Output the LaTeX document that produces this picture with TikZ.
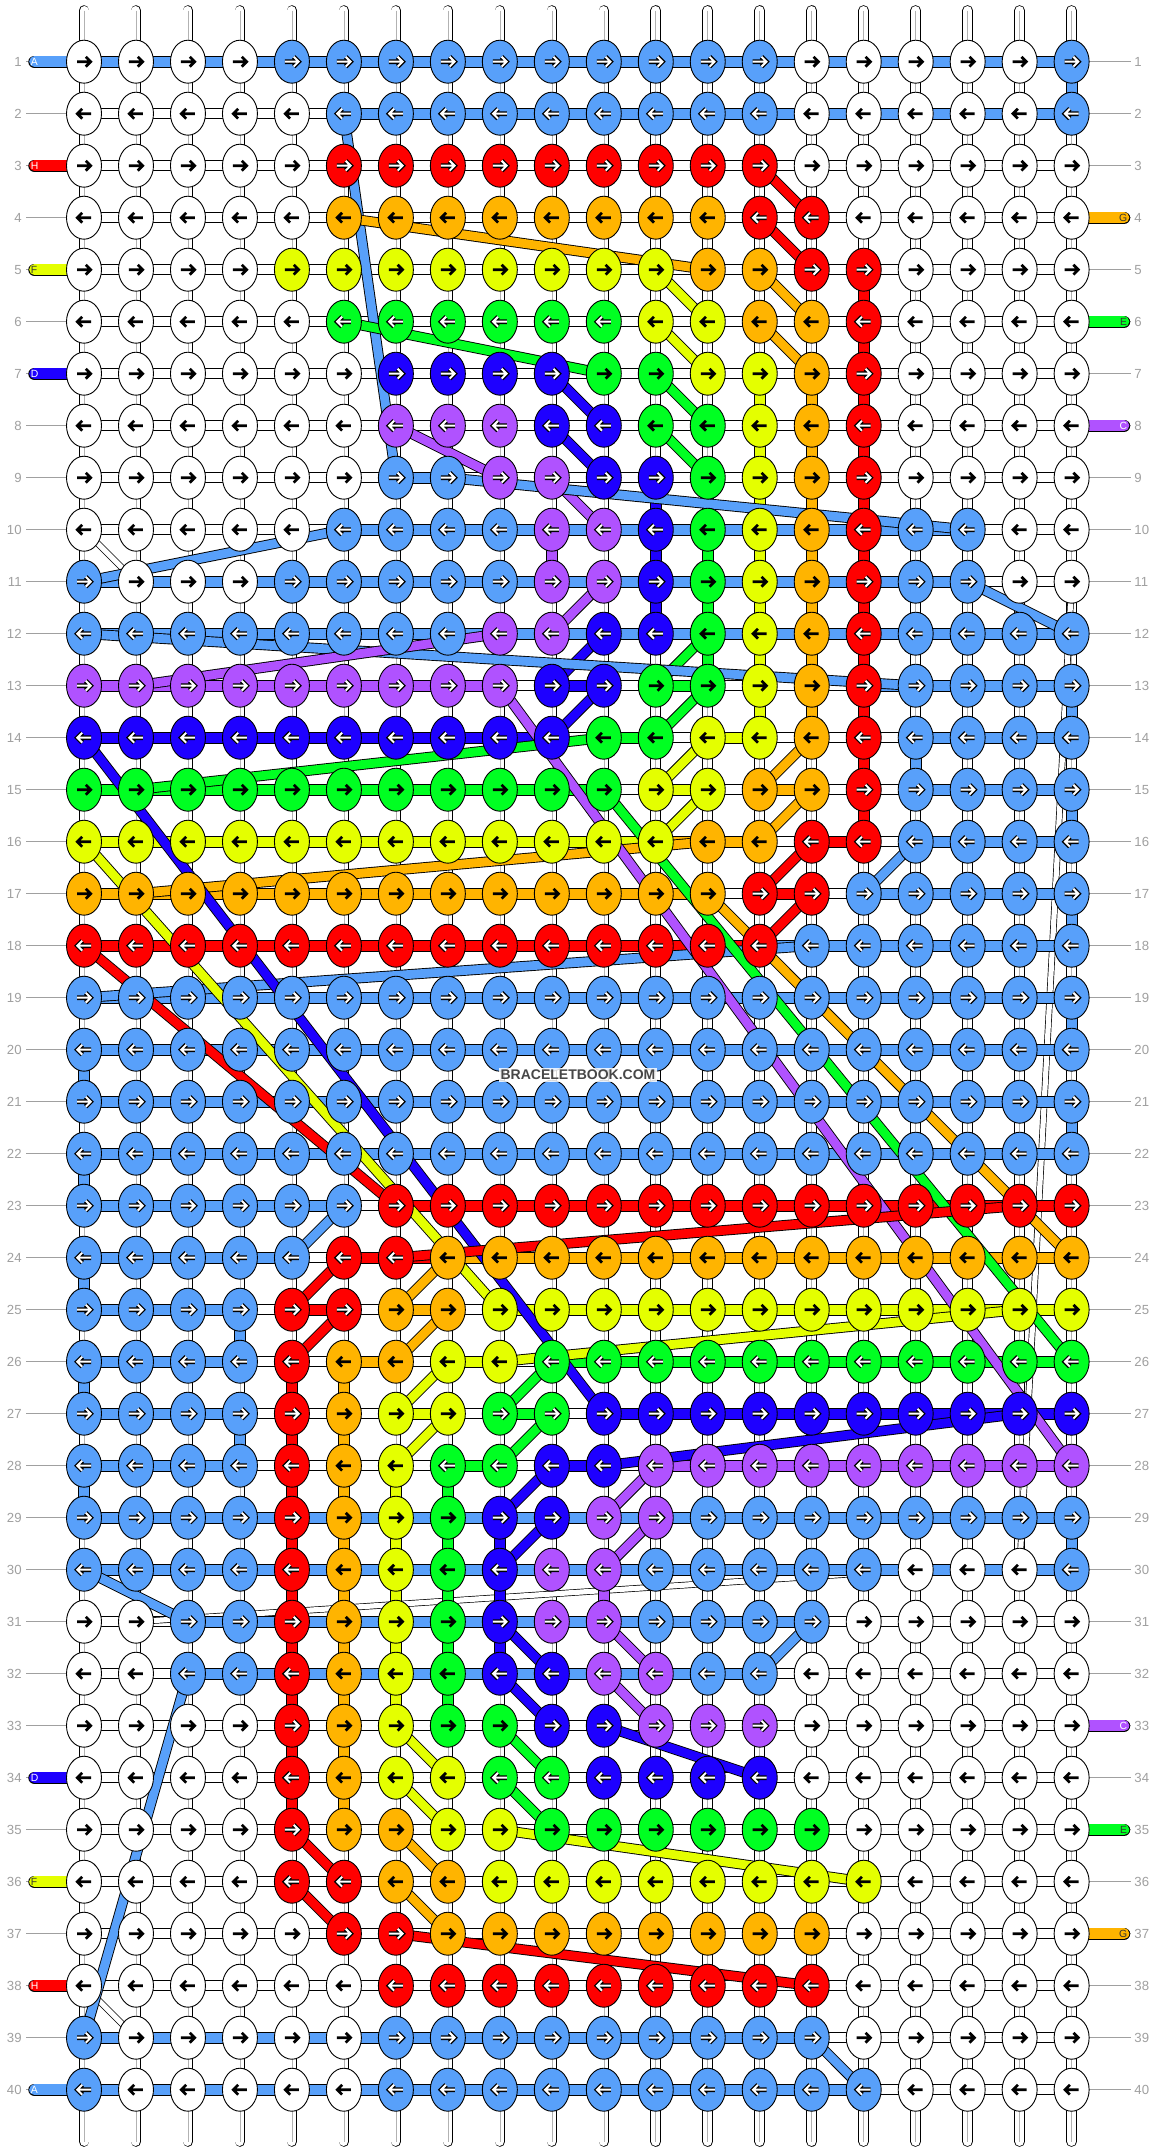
\documentclass[tikz,border=0pt]{standalone}
\usepackage{fontspec}
\setmainfont{Liberation Sans}
\usetikzlibrary{shapes.geometric}
\definecolor{kA}{RGB}{88,160,250}
\definecolor{kH}{RGB}{255,0,0}
\definecolor{kG}{RGB}{255,180,0}
\definecolor{kF}{RGB}{228,255,0}
\definecolor{kE}{RGB}{0,255,34}
\definecolor{ke}{RGB}{0,255,34}
\definecolor{kD}{RGB}{30,0,255}
\definecolor{kC}{RGB}{176,82,255}
\definecolor{kW}{RGB}{255,255,255}
\definecolor{numgray}{RGB}{160,160,160}
\pgfdeclarelayer{bg}
\pgfdeclarelayer{wl}
\pgfdeclarelayer{cl}
\pgfsetlayers{bg,wl,cl,main}
\def\atW{B}\def\atF{B}\def\atG{B}\def\atE{B}
\def\atA{L}\def\atH{L}\def\atD{L}\def\atC{L}\def\ate{L}
\tikzset{
 knot/.style={ellipse,draw=black,line width=0.45pt,minimum width=17.5pt,minimum height=21.5pt,inner sep=0pt},
 cbar/.style={draw=black,line width=0.45pt,double=#1,double distance=5.1pt},
 cline/.style={draw=black,line width=0.45pt,double=#1,double distance=4.4pt},
 wbar/.style={draw=black,line width=0.4pt,double=white,double distance=4.7pt},
 vbar/.style={draw=black,line width=0.4pt,double=white,double distance=4.5pt,line cap=round},
 thinw/.style={draw=black,line width=0.35pt,double=white,double distance=2.6pt},
 numtxt/.style={font=\fontsize{6.6pt}{7pt}\selectfont,text=numgray,inner sep=0pt},
 labtxt/.style={font=\fontsize{5.2pt}{6pt}\selectfont,inner sep=0pt},
}
\newcommand\knotrow[2]{%
 \ifodd#1\relax\def\kdir{1}\else\def\kdir{-1}\fi
 \foreach \kk [count=\cc] in {#2}{%
  \pgfmathsetmacro\xx{84+51.98*(\cc-1)}%
  \pgfmathsetmacro\yy{61.7+52*(#1-1)}%
  \node[knot,fill=k\kk] (k-#1-\cc) at (\xx,\yy) {};
  \if B\csname at\kk\endcsname
   \draw[line width=1.35pt,shift={(\xx,\yy)},xscale=\kdir] (-7,0)--(6,0) (1.8,-4.9)--(6.7,0)--(1.8,4.9);
  \else
   \draw[line width=2.3pt,shift={(\xx,\yy)},xscale=\kdir] (-7,0)--(6,0) (1.8,-4.9)--(6.7,0)--(1.8,4.9);
   \draw[white,line width=1.0pt,shift={(\xx,\yy)},xscale=\kdir] (-7,0)--(6,0) (1.8,-4.9)--(6.7,0)--(1.8,4.9);
  \fi
 }}
\newcommand\linkrow[2]{%
 \foreach \kk [count=\cc] in {#2}{%
  \if W\kk\else
   \pgfmathtruncatemacro\cn{\cc+1}%
   \draw[cbar=k\kk] (k-#1-\cc.center) -- (k-#1-\cn.center);
  \fi}}
\newcommand\vlk[4]{\draw[cbar=k#1] (k-#3-#2.center) -- (k-#4-#2.center);}
\newcommand\thr[5]{\draw[cline=k#1] (k-#2-#3.center) -- (k-#4-#5.center);}
\newcommand\leftlab[4]{%
 \coordinate (lb-#1) at (34.5,{61.7+52*(#1-1)});
 \draw[draw=black,line width=0.45pt,double=k#2,double distance=5.3pt,line cap=round] (lb-#1) -- (k-#1-1.center);
 \node[labtxt,anchor=west,text=#4] (lt-#1) at (30.5,{61.7+52*(#1-1)}) {#3};}
\newcommand\rightlab[4]{%
 \coordinate (rb-#1) at (1124,{61.7+52*(#1-1)});
 \draw[draw=black,line width=0.45pt,double=k#2,double distance=5.3pt,line cap=round] (k-#1-20.center) -- (rb-#1);
 \node[labtxt,anchor=east,text=#4] (rt-#1) at (1127.5,{61.7+52*(#1-1)}) {#3};}
\begin{document}
\begin{tikzpicture}[x=0.5pt,y=-0.5pt]
\begin{pgfonlayer}{bg}
\fill[white] (0,0) rectangle (1156,2152);
\end{pgfonlayer}
\useasboundingbox (0,0) rectangle (1156,2152);
% knots
\knotrow{1}{W,W,W,W,A,A,A,A,A,A,A,A,A,A,W,W,W,W,W,A}
\knotrow{2}{W,W,W,W,W,A,A,A,A,A,A,A,A,A,W,W,W,W,W,A}
\knotrow{3}{W,W,W,W,W,H,H,H,H,H,H,H,H,H,W,W,W,W,W,W}
\knotrow{4}{W,W,W,W,W,G,G,G,G,G,G,G,G,H,H,W,W,W,W,W}
\knotrow{5}{W,W,W,W,F,F,F,F,F,F,F,F,G,G,H,H,W,W,W,W}
\knotrow{6}{W,W,W,W,W,e,e,e,e,e,e,F,F,G,G,H,W,W,W,W}
\knotrow{7}{W,W,W,W,W,W,D,D,D,D,E,E,F,F,G,H,W,W,W,W}
\knotrow{8}{W,W,W,W,W,W,C,C,C,D,D,E,E,F,G,H,W,W,W,W}
\knotrow{9}{W,W,W,W,W,W,A,A,C,C,D,D,E,F,G,H,W,W,W,W}
\knotrow{10}{W,W,W,W,W,A,A,A,A,C,C,D,E,F,G,H,A,A,W,W}
\knotrow{11}{A,W,W,W,A,A,A,A,A,C,C,D,E,F,G,H,A,A,W,W}
\knotrow{12}{A,A,A,A,A,A,A,A,C,C,D,D,E,F,G,H,A,A,A,A}
\knotrow{13}{C,C,C,C,C,C,C,C,C,D,D,E,E,F,G,H,A,A,A,A}
\knotrow{14}{D,D,D,D,D,D,D,D,D,D,E,E,F,F,G,H,A,A,A,A}
\knotrow{15}{E,E,E,E,E,E,E,E,E,E,E,F,F,G,G,H,A,A,A,A}
\knotrow{16}{F,F,F,F,F,F,F,F,F,F,F,F,G,G,H,H,A,A,A,A}
\knotrow{17}{G,G,G,G,G,G,G,G,G,G,G,G,G,H,H,A,A,A,A,A}
\knotrow{18}{H,H,H,H,H,H,H,H,H,H,H,H,H,H,A,A,A,A,A,A}
\knotrow{19}{A,A,A,A,A,A,A,A,A,A,A,A,A,A,A,A,A,A,A,A}
\knotrow{20}{A,A,A,A,A,A,A,A,A,A,A,A,A,A,A,A,A,A,A,A}
\knotrow{21}{A,A,A,A,A,A,A,A,A,A,A,A,A,A,A,A,A,A,A,A}
\knotrow{22}{A,A,A,A,A,A,A,A,A,A,A,A,A,A,A,A,A,A,A,A}
\knotrow{23}{A,A,A,A,A,A,H,H,H,H,H,H,H,H,H,H,H,H,H,H}
\knotrow{24}{A,A,A,A,A,H,H,G,G,G,G,G,G,G,G,G,G,G,G,G}
\knotrow{25}{A,A,A,A,H,H,G,G,F,F,F,F,F,F,F,F,F,F,F,F}
\knotrow{26}{A,A,A,A,H,G,G,F,F,e,e,e,e,e,e,e,e,e,e,e}
\knotrow{27}{A,A,A,A,H,G,F,F,e,e,D,D,D,D,D,D,D,D,D,D}
\knotrow{28}{A,A,A,A,H,G,F,e,e,D,D,C,C,C,C,C,C,C,C,C}
\knotrow{29}{A,A,A,A,H,G,F,E,D,D,C,C,A,A,A,A,A,A,A,A}
\knotrow{30}{A,A,A,A,H,G,F,E,D,C,C,A,A,A,A,A,W,W,W,A}
\knotrow{31}{W,W,A,A,H,G,F,E,D,C,C,A,A,A,A,W,W,W,W,W}
\knotrow{32}{W,W,A,A,H,G,F,E,D,D,C,C,A,A,W,W,W,W,W,W}
\knotrow{33}{W,W,W,W,H,G,F,E,E,D,D,C,C,C,W,W,W,W,W,W}
\knotrow{34}{W,W,W,W,H,G,F,F,e,e,D,D,D,D,W,W,W,W,W,W}
\knotrow{35}{W,W,W,W,H,G,G,F,F,E,E,E,E,E,E,W,W,W,W,W}
\knotrow{36}{W,W,W,W,H,H,G,G,F,F,F,F,F,F,F,F,W,W,W,W}
\knotrow{37}{W,W,W,W,W,H,H,G,G,G,G,G,G,G,G,W,W,W,W,W}
\knotrow{38}{W,W,W,W,W,W,H,H,H,H,H,H,H,H,H,W,W,W,W,W}
\knotrow{39}{A,W,W,W,W,W,A,A,A,A,A,A,A,A,A,W,W,W,W,W}
\knotrow{40}{A,W,W,W,W,W,A,A,A,A,A,A,A,A,A,A,W,W,W,W}
% white base links
\begin{pgfonlayer}{wl}
\foreach \cc in {1,...,20}{%
 \pgfmathsetmacro\xx{84+51.98*(\cc-1)}%
 \coordinate (top-\cc) at (\xx,10.5);
 \coordinate (bot-\cc) at (\xx,2141.5);
 \draw[vbar] (top-\cc) -- (bot-\cc);
 \draw[black!30,line width=0.3pt] (top-\cc) -- (bot-\cc);
}
\foreach \rr in {1,...,40}{%
 \pgfmathsetmacro\yy{61.7+52*(\rr-1)}%
 \draw[wbar] (k-\rr-1.center) -- (k-\rr-20.center);
 \coordinate (gl-\rr) at (26,\yy);
 \coordinate (gr-\rr) at (1131,\yy);
 \draw[numgray,line width=0.5pt] (gl-\rr) -- (k-\rr-1.center);
 \draw[numgray,line width=0.5pt] (k-\rr-20.center) -- (gr-\rr);
}
\draw[thinw] (k-10-1.center) -- (k-11-2.center);
\draw[thinw] (k-38-1.center) -- (k-39-2.center);
\draw[thinw] (k-11-20.center) -- (k-30-19.center);
\draw[thinw] (k-30-17.center) -- (k-31-2.center);
\end{pgfonlayer}
% colored threads
\begin{pgfonlayer}{cl}
\linkrow{1}{A,A,A,A,A,A,A,A,A,A,A,A,A,A,A,A,A,A,A}
\linkrow{2}{W,W,W,W,W,A,A,A,A,A,A,A,A,A,A,A,A,A,A}
\linkrow{9}{W,W,W,W,W,W,A,W,W,W,W,W,W,W,W,W,W,W,W}
\linkrow{10}{W,W,W,W,W,A,A,A,A,A,A,A,A,A,A,A,A,W,W}
\linkrow{11}{A,A,A,A,A,A,A,A,A,A,A,A,A,A,A,A,A,W,W}
\linkrow{12}{A,A,A,A,A,A,A,A,A,A,A,A,A,A,A,A,A,A,A}
\linkrow{13}{C,C,C,C,C,C,C,C,W,D,W,E,W,W,W,A,A,A,A}
\linkrow{14}{D,D,D,D,D,D,D,D,D,W,E,W,F,W,W,W,A,A,A}
\linkrow{15}{E,E,E,E,E,E,E,E,E,E,W,F,W,G,W,W,A,A,A}
\linkrow{16}{F,F,F,F,F,F,F,F,F,F,F,G,G,W,H,W,A,A,A}
\linkrow{17}{G,G,G,G,G,G,G,G,G,G,G,G,W,H,W,A,A,A,A}
\linkrow{18}{H,H,H,H,H,H,H,H,H,H,H,H,H,A,A,A,A,A,A}
\linkrow{19}{A,A,A,A,A,A,A,A,A,A,A,A,A,A,A,A,A,A,A}
\linkrow{20}{A,A,A,A,A,A,A,A,A,A,A,A,A,A,A,A,A,A,A}
\linkrow{21}{A,A,A,A,A,A,A,A,A,A,A,A,A,A,A,A,A,A,A}
\linkrow{22}{A,A,A,A,A,A,A,A,A,A,A,A,A,A,A,A,A,A,A}
\linkrow{23}{A,A,A,A,A,W,H,H,H,H,H,H,H,H,H,H,H,H,H}
\linkrow{24}{A,A,A,A,W,H,H,G,G,G,G,G,G,G,G,G,G,G,G}
\linkrow{25}{A,A,A,W,H,W,G,W,F,F,F,F,F,F,F,F,F,F,F}
\linkrow{26}{A,A,A,W,W,G,W,F,W,E,E,E,E,E,E,E,E,E,E}
\linkrow{27}{A,A,A,W,W,W,F,W,E,W,D,D,D,D,D,D,D,D,D}
\linkrow{28}{A,A,A,W,W,W,W,E,W,D,W,C,C,C,C,C,C,C,C}
\linkrow{29}{A,A,A,A,A,A,A,A,A,A,A,A,A,A,A,A,A,A,A}
\linkrow{30}{A,A,A,A,A,A,A,A,A,A,A,A,A,A,A,A,A,A,A}
\linkrow{31}{W,W,A,A,A,A,A,A,A,A,A,A,A,A,W,W,W,W,W}
\linkrow{32}{W,W,A,A,A,A,A,A,A,A,A,A,A,W,W,W,W,W,W}
\linkrow{39}{A,A,A,A,A,A,A,A,A,A,A,A,A,A,W,W,W,W,W}
\linkrow{40}{A,A,A,A,A,A,A,A,A,A,A,A,A,A,A,W,W,W,W}
% vertical colored links
\vlk{A}{20}{1}{2}
\vlk{A}{20}{13}{14}
\vlk{A}{17}{14}{15}
\vlk{A}{20}{15}{16}
\vlk{A}{20}{17}{18}
\vlk{A}{20}{19}{20}
\vlk{A}{1}{20}{21}
\vlk{A}{20}{21}{22}
\vlk{A}{1}{22}{23}
\vlk{A}{1}{24}{25}
\vlk{A}{4}{25}{26}
\vlk{A}{1}{26}{27}
\vlk{A}{4}{27}{28}
\vlk{A}{1}{28}{29}
\vlk{A}{20}{29}{30}
\vlk{H}{16}{5}{16}
\vlk{H}{5}{26}{35}
\vlk{G}{15}{7}{14}
\vlk{G}{6}{26}{35}
\vlk{F}{14}{7}{14}
\vlk{F}{7}{28}{33}
\vlk{E}{13}{9}{13}
\vlk{E}{8}{28}{33}
\vlk{D}{12}{9}{12}
\vlk{D}{9}{29}{32}
\vlk{C}{10}{10}{11}
\vlk{C}{11}{30}{31}
% short diagonal threads
\thr{H}{3}{14}{4}{15} \thr{H}{4}{14}{5}{15}
\thr{G}{5}{14}{6}{15} \thr{G}{6}{14}{7}{15}
\thr{F}{5}{12}{6}{13} \thr{F}{6}{12}{7}{13}
\thr{E}{7}{12}{8}{13} \thr{E}{8}{12}{9}{13}
\thr{D}{7}{10}{8}{11} \thr{D}{8}{10}{9}{11}
\thr{C}{9}{10}{10}{11} \thr{C}{11}{11}{12}{10}
\thr{D}{12}{11}{13}{10} \thr{D}{13}{11}{14}{10}
\thr{E}{12}{13}{13}{12} \thr{E}{13}{13}{14}{12}
\thr{F}{14}{13}{15}{12} \thr{F}{15}{13}{16}{12}
\thr{G}{14}{15}{15}{14} \thr{G}{15}{15}{16}{14}
\thr{H}{16}{15}{17}{14} \thr{H}{17}{15}{18}{14}
\thr{A}{16}{17}{17}{16}
\thr{A}{23}{6}{24}{5}
\thr{H}{24}{6}{25}{5} \thr{H}{25}{6}{26}{5}
\thr{G}{24}{8}{25}{7} \thr{G}{25}{8}{26}{7}
\thr{F}{26}{8}{27}{7} \thr{F}{27}{8}{28}{7}
\thr{E}{26}{10}{27}{9} \thr{E}{27}{10}{28}{9}
\thr{D}{28}{10}{29}{9} \thr{D}{29}{10}{30}{9}
\thr{C}{29}{11}{28}{12} \thr{C}{30}{11}{29}{12}
\thr{D}{31}{9}{32}{10} \thr{D}{32}{9}{33}{10}
\thr{C}{31}{11}{32}{12} \thr{C}{32}{11}{33}{12}
\thr{E}{33}{9}{34}{10} \thr{E}{34}{9}{35}{10}
\thr{F}{33}{7}{34}{8} \thr{F}{34}{7}{35}{8}
\thr{G}{35}{7}{36}{8} \thr{G}{36}{7}{37}{8}
\thr{H}{35}{5}{36}{6} \thr{H}{36}{5}{37}{6}
\thr{A}{30}{1}{31}{3} \thr{A}{31}{15}{32}{14} \thr{A}{39}{15}{40}{16}
% long threads
\thr{A}{2}{6}{9}{7} \thr{A}{9}{8}{10}{18} \thr{A}{10}{6}{11}{1}
\thr{A}{11}{18}{12}{20} \thr{A}{12}{1}{13}{17} \thr{A}{18}{15}{19}{1}
\thr{A}{32}{3}{39}{1}
\thr{G}{4}{6}{5}{13} \thr{G}{17}{2}{16}{13} \thr{G}{17}{13}{24}{20}
\thr{E}{6}{6}{7}{11} \thr{E}{15}{2}{14}{11} \thr{E}{15}{11}{26}{20}
\thr{C}{8}{7}{9}{9} \thr{C}{12}{9}{13}{2} \thr{C}{13}{9}{28}{20}
\thr{D}{14}{1}{27}{11} \thr{D}{28}{11}{27}{19} \thr{D}{33}{11}{34}{14}
\thr{F}{16}{1}{25}{9} \thr{F}{26}{9}{25}{19} \thr{F}{35}{9}{36}{16}
\thr{H}{18}{1}{23}{7} \thr{H}{24}{7}{23}{19} \thr{H}{37}{7}{38}{15}
% thread ends with letters
\leftlab{1}{A}{A}{white}
\leftlab{3}{H}{H}{white}
\leftlab{5}{F}{F}{black!80}
\leftlab{7}{D}{D}{white}
\leftlab{34}{D}{D}{white}
\leftlab{36}{F}{F}{black!80}
\leftlab{38}{H}{H}{white}
\leftlab{40}{A}{A}{white}
\rightlab{4}{G}{G}{black!80}
\rightlab{6}{E}{E}{black!80}
\rightlab{8}{C}{C}{white}
\rightlab{33}{C}{C}{white}
\rightlab{35}{E}{E}{black!80}
\rightlab{37}{G}{G}{black!80}
\end{pgfonlayer}
% row numbers
\foreach \rr in {1,...,40}{%
 \pgfmathsetmacro\yy{61.7+52*(\rr-1)}%
 \node[numtxt,anchor=east] (nl-\rr) at (22,\yy) {\rr};
 \node[numtxt,anchor=west] (nr-\rr) at (1134,\yy) {\rr};
}
\node[font=\bfseries\fontsize{7pt}{8pt}\selectfont,text=black!72,fill=white,fill opacity=0.85,text opacity=1,inner sep=1pt] (wm) at (578,1075) {BRACELETBOOK.COM};
\end{tikzpicture}
\end{document}
